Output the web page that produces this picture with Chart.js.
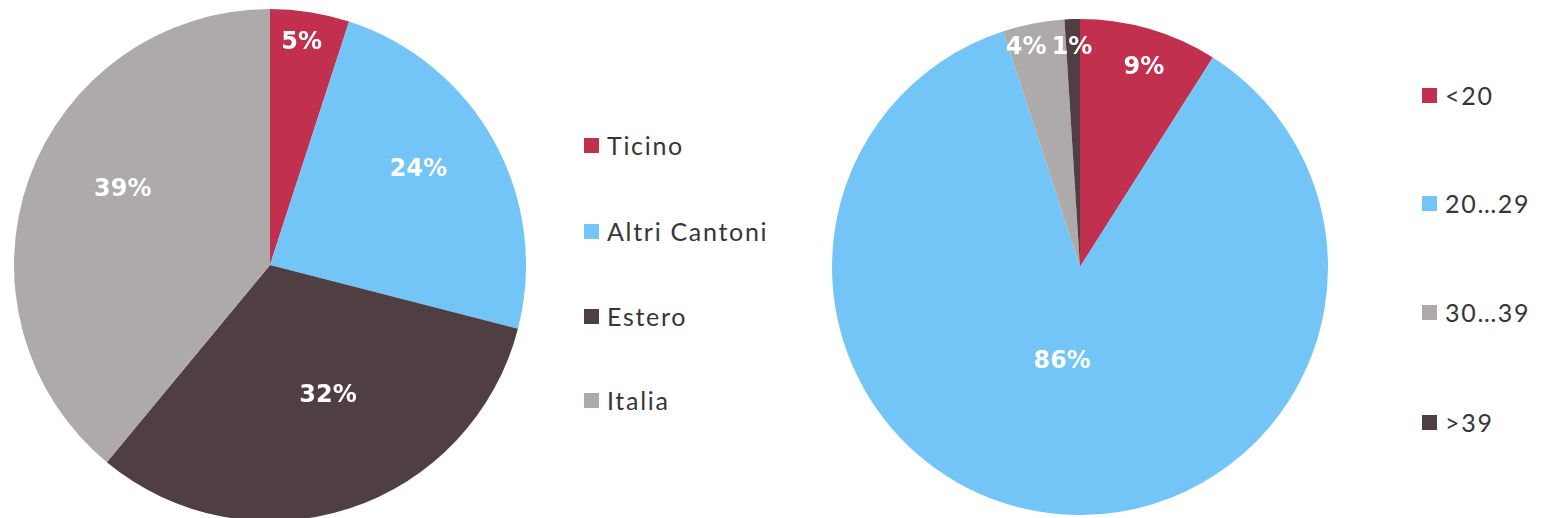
<!DOCTYPE html>
<html>
<head>
<meta charset="utf-8">
<script src="https://cdn.jsdelivr.net/npm/chart.js@4"></script>
<style>
  html, body { margin: 0; padding: 0; background: #fff; width: 1542px; height: 518px; overflow: hidden; }
  .pie { position: absolute; }
  .legend { position: absolute; font-family: Lato, "Noto Sans", sans-serif; font-size: 25px; letter-spacing: 1.7px; color: #363636; }
  .legend .item { position: absolute; left: 0; white-space: nowrap; display: flex; align-items: center; transform: translateY(-50%); }
  .legend .box { width: 15px; height: 15px; margin-right: 8px; flex: none; }
</style>
</head>
<body>
<div class="pie" id="wrapA" style="left:14px; top:9px; width:512px; height:512px;"><canvas id="pieA"></canvas></div>
<div class="legend" id="legA" style="left:584px; top:0;"></div>
<div class="pie" id="wrapB" style="left:832px; top:19px; width:496px; height:496px;"><canvas id="pieB"></canvas></div>
<div class="legend" id="legB" style="left:1422px; top:0;"></div>
<script>
// Provenienza
const originLabels = ['Ticino', 'Altri Cantoni', 'Estero', 'Italia'];
const originValues = [5, 24, 32, 39];
// Età
const ageLabels = ['<20', '20\u202629', '30\u202639', '>39'];
const ageValues = [9, 86, 4, 1];

const originColors = ['#c1304f', '#73c5f7', '#4f3f43', '#aeaaaa'];
const ageColors = ['#c1304f', '#73c5f7', '#aeaaaa', '#4f3f43'];

// placement of each percentage label inside its slice:
// position along the slice's sweep (0..1) and distance as a fraction of the radius
const originLabelSweep = [0.45, 0.454, 0.449, 0.551];
const originLabelRadius = [0.875, 0.69, 0.56, 0.645];
const ageLabelSweep = [0.55, 0.511, 0.29, 0.42];
const ageLabelRadius = [0.843, 0.39, 0.91, 0.884];

// legend row centres
const originLegendY = [145, 231, 316, 400];
const ageLegendY = [95, 203, 312, 422];

const percentLabels = {
  id: 'percentLabels',
  afterDatasetsDraw(chart, args, opts) {
    const ctx = chart.ctx;
    const meta = chart.getDatasetMeta(0);
    const data = chart.data.datasets[0].data;
    ctx.save();
    ctx.font = 'bold 24px "DejaVu Sans", Lato, sans-serif';
    ctx.fillStyle = '#ffffff';
    ctx.textAlign = 'center';
    ctx.textBaseline = 'middle';
    meta.data.forEach((arc, i) => {
      const p = arc.getProps(['x', 'y', 'startAngle', 'endAngle', 'outerRadius'], true);
      const a = p.startAngle + (p.endAngle - p.startAngle) * opts.sweep[i];
      const r = p.outerRadius * opts.radius[i];
      ctx.fillText(data[i] + '%', p.x + Math.cos(a) * r, p.y + Math.sin(a) * r);
    });
    ctx.restore();
  }
};

function makePie(id, labels, values, colors, labelSweep, labelRadius) {
  return new Chart(document.getElementById(id), {
    type: 'pie',
    data: {
      labels: labels,
      datasets: [{ data: values, backgroundColor: colors, borderWidth: 0 }]
    },
    options: {
      responsive: true,
      maintainAspectRatio: false,
      animation: false,
      layout: { padding: 0 },
      plugins: {
        legend: { display: false },
        tooltip: { enabled: false },
        percentLabels: { sweep: labelSweep, radius: labelRadius }
      }
    },
    plugins: [percentLabels]
  });
}

function makeLegend(id, labels, colors, ys) {
  const el = document.getElementById(id);
  labels.forEach((lab, i) => {
    const item = document.createElement('div');
    item.className = 'item';
    item.style.top = ys[i] + 'px';
    const box = document.createElement('span');
    box.className = 'box';
    box.style.background = colors[i];
    const txt = document.createElement('span');
    txt.textContent = lab;
    item.appendChild(box);
    item.appendChild(txt);
    el.appendChild(item);
  });
}

makePie('pieA', originLabels, originValues, originColors, originLabelSweep, originLabelRadius);
makePie('pieB', ageLabels, ageValues, ageColors, ageLabelSweep, ageLabelRadius);
makeLegend('legA', originLabels, originColors, originLegendY);
makeLegend('legB', ageLabels, ageColors, ageLegendY);
</script>
</body>
</html>
